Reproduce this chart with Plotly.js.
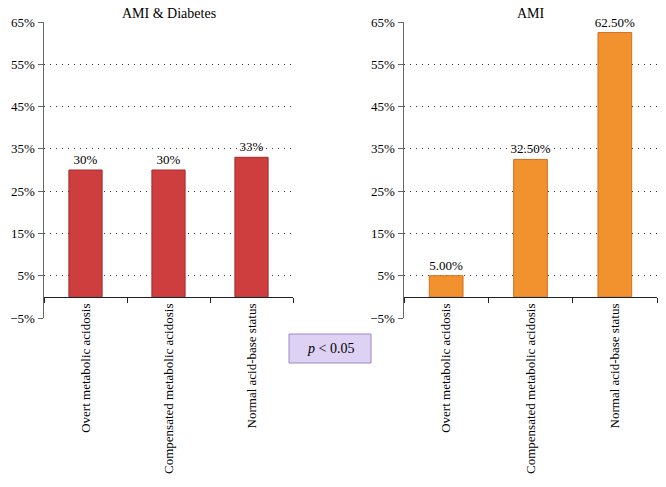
<!DOCTYPE html>
<html><head><meta charset="utf-8">
<script src="https://cdn.plot.ly/plotly-3.0.1.min.js"></script>
<style>html,body{margin:0;padding:0;background:#fff}#c{width:666px;height:487px}</style>
</head><body><div id="c"></div>
<script>
const categories = ["Overt metabolic acidosis", "Compensated metabolic acidosis", "Normal acid-base status"];
const diabetesValues = [30, 30, 33];
const diabetesLabels = ["30%", "30%", "33%"];
const amiValues = [5, 32.5, 62.5];
const amiLabels = ["5.00%", "32.50%", "62.50%"];
const yTicks = [-5, 5, 15, 25, 35, 45, 55, 65];
const yTickText = ["\u22125%", "5%", "15%", "25%", "35%", "45%", "55%", "65%"];
const panelTitles = ["AMI &amp; Diabetes", "AMI"];
const pText = "<i>p</i> &lt; 0.05";

const W = 666, H = 487;
const yRange = [-5, 65];
const yDom = [1 - 318 / H, 1 - 22 / H];
const zeroPos = yDom[0] + (0 - yRange[0]) / (yRange[1] - yRange[0]) * (yDom[1] - yDom[0]);
const font = {family: "Liberation Serif, Times New Roman, serif", size: 13, color: "#000"};

function yax(anchor) {
  return {domain: yDom, range: yRange, anchor: anchor, tickmode: "array", tickvals: yTicks, ticktext: yTickText,
    showline: true, linecolor: "#666", linewidth: 1.5, ticks: "outside", ticklen: 5, tickcolor: "#666",
    showgrid: true, gridcolor: "#333", griddash: "1px,5px", gridwidth: 1.2, zeroline: false, fixedrange: true,
    tickfont: font};
}
function xax(dom) {
  return {domain: dom, anchor: "free", position: zeroPos, type: "category", range: [-0.5, 2.5],
    showline: true, linecolor: "#222", linewidth: 1.5, ticks: "outside", tickson: "boundaries", ticklen: 5,
    tickcolor: "#222", tickangle: -90, showgrid: false, zeroline: false, tickfont: font, fixedrange: true};
}

const traces = [
  {type: "bar", x: categories, y: diabetesValues, text: diabetesLabels, textposition: "outside",
   textfont: font, constraintext: "none", cliponaxis: false, width: 0.4, xaxis: "x", yaxis: "y",
   marker: {color: "#cf3e3e", line: {color: "#a02c2c", width: 1}}, hoverinfo: "skip"},
  {type: "bar", x: categories, y: amiValues, text: amiLabels, textposition: "outside",
   textfont: font, constraintext: "none", cliponaxis: false, width: 0.4, xaxis: "x2", yaxis: "y2",
   marker: {color: "#f2922e", line: {color: "#d07020", width: 1}}, hoverinfo: "skip"}
];

const layout = {
  width: W, height: H, margin: {l: 0, r: 0, t: 0, b: 0}, showlegend: false,
  paper_bgcolor: "#fff", plot_bgcolor: "rgba(0,0,0,0)", font: font, bargap: 0.6,
  xaxis: xax([44 / W, 293 / W]), yaxis: yax("x"),
  xaxis2: xax([404 / W, 657 / W]), yaxis2: yax("x2"),
  annotations: [
    {text: panelTitles[0], xref: "x domain", yref: "paper", x: 0.5, y: 1 - 13 / H, yanchor: "middle", showarrow: false,
     font: {family: font.family, size: 14, color: "#000"}},
    {text: panelTitles[1], xref: "x2 domain", yref: "paper", x: 0.5, y: 1 - 13 / H, yanchor: "middle", showarrow: false,
     font: {family: font.family, size: 14, color: "#000"}},
    {text: pText, xref: "paper", yref: "paper", x: 330 / W, y: 1 - 348 / H, yanchor: "middle", showarrow: false,
     font: {family: font.family, size: 14, color: "#000"}}
  ],
  shapes: [
    {type: "rect", xref: "paper", yref: "paper", x0: 289 / W, x1: 371 / W, y0: 1 - 363 / H, y1: 1 - 334 / H,
     fillcolor: "#ddd2f4", line: {color: "#9a88c8", width: 1}, layer: "below"}
  ]
};
Plotly.newPlot("c", traces, layout, {staticPlot: true});
</script></body></html>
